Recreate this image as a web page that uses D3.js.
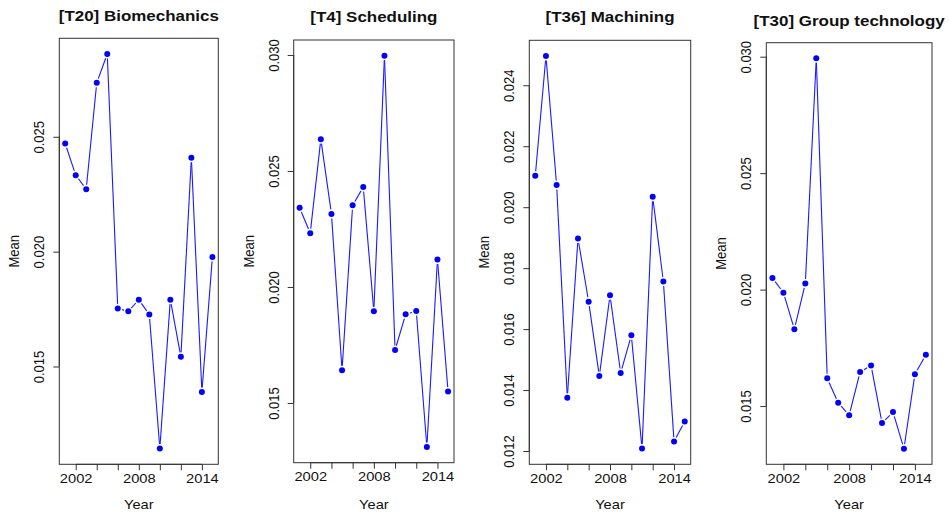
<!DOCTYPE html>
<html>
<head>
<meta charset="utf-8">
<script src="https://cdn.jsdelivr.net/npm/d3@7"></script>
<style>
  body { margin: 0; background: #fff; }
  text { font-family: Arial, "Liberation Sans", sans-serif; fill: #111; }
</style>
</head>
<body>
<div id="chart"></div>
<script>
// years shared by all four panels
var years = [2001, 2002, 2003, 2004, 2005, 2006, 2007, 2008, 2009, 2010, 2011, 2012, 2013, 2014, 2015];

var titles = ["[T20] Biomechanics", "[T4] Scheduling", "[T36] Machining", "[T30] Group technology"];

var biomechanics = [0.02471, 0.02333, 0.02272, 0.02735, 0.02860, 0.01753, 0.01740, 0.01791,
  0.01726, 0.01143, 0.01791, 0.01542, 0.02409, 0.01389, 0.01977];
var scheduling = [0.02341, 0.02232, 0.02637, 0.02315, 0.01641, 0.02352, 0.02431, 0.01895,
  0.02997, 0.01728, 0.01882, 0.01896, 0.01310, 0.02118, 0.01549];
var machining = [0.02103, 0.02496, 0.02073, 0.01375, 0.01897, 0.01690, 0.01446, 0.01711,
  0.01456, 0.01580, 0.01208, 0.02034, 0.01756, 0.01231, 0.01297];
var groupTech = [0.02050, 0.01987, 0.01830, 0.02026, 0.02993, 0.01619, 0.01514, 0.01461,
  0.01646, 0.01674, 0.01427, 0.01474, 0.01317, 0.01637, 0.01720];

var xTicks = [2002, 2004, 2006, 2008, 2010, 2012, 2014];
var xTickLabels = [2002, 2008, 2014];

var yTicks1 = [0.015, 0.020, 0.025];
var yTicks2 = [0.015, 0.020, 0.025, 0.030];
var yTicks3 = [0.012, 0.014, 0.016, 0.018, 0.020, 0.022, 0.024];
var yTicks4 = [0.015, 0.020, 0.025, 0.030];

var series = [biomechanics, scheduling, machining, groupTech];
var yTicks = [yTicks1, yTicks2, yTicks3, yTicks4];

// plot box of each panel (left, right, top, bottom) and title baseline
var boxes = [
  {l: 59.3, r: 218.3, t: 38.3, b: 464.3, ty: 21},
  {l: 293.7, r: 454, t: 40, b: 462.7, ty: 22},
  {l: 529.3, r: 690.7, t: 40.3, b: 464.3, ty: 22},
  {l: 766.3, r: 932, t: 42.7, b: 464.3, ty: 26}
];

// the source picture is a little stretched sideways
var sx = 1.13;

var svg = d3.select("#chart").append("svg")
  .attr("width", 949)
  .attr("height", 514);

// R style axis range: data range padded by 4% each side
function pad(ext) {
  var d = (ext[1] - ext[0]) * 0.04;
  return [ext[0] - d, ext[1] + d];
}

series.forEach(function(vals, i) {
  var box = boxes[i];
  var data = years.map(function(y, j) { return {year: y, v: vals[j]}; });

  var x = d3.scaleLinear().domain(pad(d3.extent(years))).range([box.l, box.r]);
  var y = d3.scaleLinear().domain(pad(d3.extent(vals))).range([box.b, box.t]);

  var g = svg.append("g");

  g.append("text")
    .attr("transform", "translate(" + ((box.l + box.r) / 2) + "," + box.ty + ") scale(" + sx + ",1)")
    .attr("text-anchor", "middle")
    .style("font-size", "15px")
    .style("font-weight", "bold")
    .text(titles[i]);

  // x axis
  var xa = g.append("g")
    .attr("transform", "translate(0," + box.b + ")")
    .call(d3.axisBottom(x).tickValues(xTicks).tickSize(6).tickPadding(3)
      .tickFormat(function(d) { return xTickLabels.indexOf(d) >= 0 ? d : ""; }));
  xa.select(".domain").attr("d", "M" + x(xTicks[0]) + ",0H" + x(xTicks[xTicks.length - 1]));
  xa.selectAll(".tick text").attr("transform", "scale(" + sx + ",1)");

  // y axis
  var ya = g.append("g")
    .attr("transform", "translate(" + box.l + ",0)")
    .call(d3.axisLeft(y).tickValues(yTicks[i]).tickSize(6).tickFormat(d3.format(".3f")));
  ya.select(".domain").attr("d", "M0," + y(yTicks[i][0]) + "V" + y(yTicks[i][yTicks[i].length - 1]));
  ya.selectAll(".tick text")
    .attr("x", 0).attr("dy", null)
    .attr("text-anchor", "middle")
    .attr("transform", "translate(-15,0) scale(" + sx + ",1) rotate(-90)");

  g.selectAll(".tick text").style("font-size", "13px").attr("fill", "#111")
    .style("font-family", "Arial, 'Liberation Sans', sans-serif");
  g.selectAll(".domain, .tick line").attr("stroke", "#333");

  g.append("rect")
    .attr("x", box.l).attr("y", box.t)
    .attr("width", box.r - box.l).attr("height", box.b - box.t)
    .attr("fill", "none").attr("stroke", "#333").attr("stroke-width", 1);

  g.append("text")
    .attr("transform", "translate(" + ((box.l + box.r) / 2) + ",509) scale(" + sx + ",1)")
    .attr("text-anchor", "middle")
    .style("font-size", "13px")
    .text("Year");

  g.append("text")
    .attr("transform", "translate(" + (box.l - 40) + "," + ((box.t + box.b) / 2) + ") scale(" + sx + ",1) rotate(-90)")
    .attr("text-anchor", "middle")
    .style("font-size", "13px")
    .text("Mean");

  // type = "b": segments with gaps around points
  var gap = 4.5;
  var segs = d3.pairs(data).map(function(p) {
    var x0 = x(p[0].year), y0 = y(p[0].v), x1 = x(p[1].year), y1 = y(p[1].v);
    var len = Math.hypot(x1 - x0, y1 - y0);
    var ux = (x1 - x0) / len, uy = (y1 - y0) / len;
    return [x0 + ux * gap, y0 + uy * gap, x1 - ux * gap, y1 - uy * gap];
  });

  g.selectAll("line.seg")
    .data(segs)
    .join("line")
    .attr("class", "seg")
    .attr("x1", function(s) { return s[0]; })
    .attr("y1", function(s) { return s[1]; })
    .attr("x2", function(s) { return s[2]; })
    .attr("y2", function(s) { return s[3]; })
    .attr("stroke", "#1a1aff")
    .attr("stroke-width", 1.1);

  g.selectAll("circle")
    .data(data)
    .join("circle")
    .attr("cx", function(d) { return x(d.year); })
    .attr("cy", function(d) { return y(d.v); })
    .attr("r", 3)
    .attr("fill", "#0000ff");
});
</script>
</body>
</html>
